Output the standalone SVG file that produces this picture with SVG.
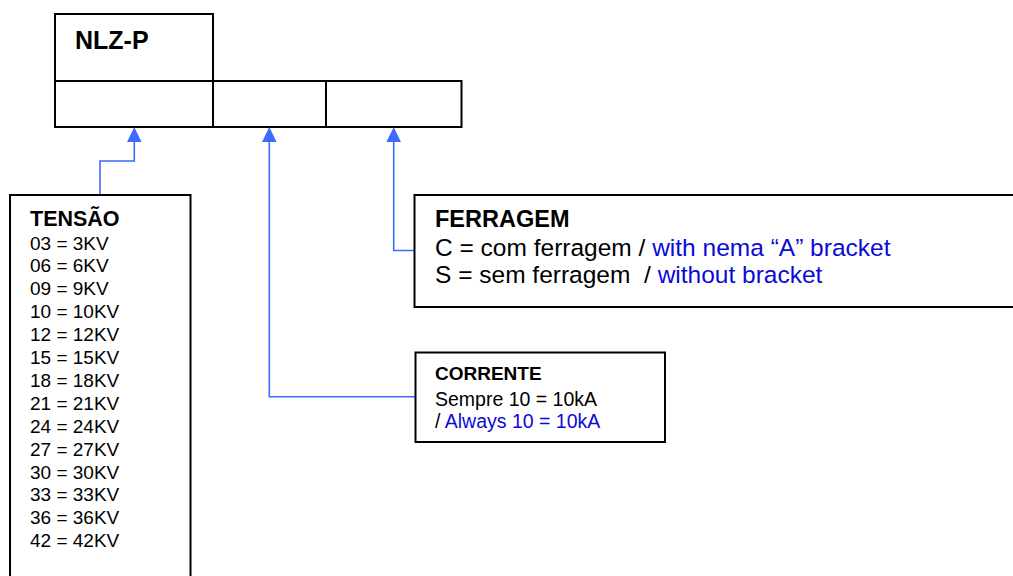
<svg xmlns="http://www.w3.org/2000/svg" width="1013" height="576" viewBox="0 0 1013 576">
<style>
.box{fill:#fff;stroke:#000;stroke-width:2}
.t{font-family:"Liberation Sans",Arial,sans-serif;fill:#000}
.b{font-weight:bold}
.blue{fill:#0a0ad6}
.conn{fill:none;stroke:#3d6bff;stroke-width:1.6}
.head{fill:#3d6bff}
</style>
<rect width="1013" height="576" fill="#fff"/>
<g id="code">
<rect class="box" x="55" y="14" width="158" height="67"/>
<rect class="box" x="55" y="81" width="158" height="46"/>
<rect class="box" x="213" y="81" width="113" height="46"/>
<rect class="box" x="326" y="81" width="135.5" height="46"/>
<text class="t b" x="75" y="49" font-size="25">NLZ-P</text>
</g>
<g id="connectors">
<path class="conn" d="M100,195 V161 H134.3 V141"/>
<path class="head" d="M134.3,127 L127,142 L141.6,142 Z"/>
<path class="conn" d="M415,396.7 H269.3 V141"/>
<path class="head" d="M269.3,127 L262,142 L276.6,142 Z"/>
<path class="conn" d="M415,250.5 H393.7 V141"/>
<path class="head" d="M393.7,127 L386.4,142 L401,142 Z"/>
</g>
<g id="tensao">
<rect class="box" x="10" y="195" width="180.5" height="400"/>
<text class="t" font-size="19">
<tspan class="b" x="30" y="226" font-size="21.5">TENSÃO</tspan>
<tspan x="30" y="249.5">03 = 3KV</tspan>
<tspan x="30" y="272.4">06 = 6KV</tspan>
<tspan x="30" y="295.3">09 = 9KV</tspan>
<tspan x="30" y="318.2">10 = 10KV</tspan>
<tspan x="30" y="341.1">12 = 12KV</tspan>
<tspan x="30" y="364">15 = 15KV</tspan>
<tspan x="30" y="386.9">18 = 18KV</tspan>
<tspan x="30" y="409.8">21 = 21KV</tspan>
<tspan x="30" y="432.7">24 = 24KV</tspan>
<tspan x="30" y="455.6">27 = 27KV</tspan>
<tspan x="30" y="478.5">30 = 30KV</tspan>
<tspan x="30" y="501.4">33 = 33KV</tspan>
<tspan x="30" y="524.3">36 = 36KV</tspan>
<tspan x="30" y="547.2">42 = 42KV</tspan>
</text>
</g>
<g id="ferragem">
<rect class="box" x="414.5" y="195" width="620" height="112"/>
<text class="t b" x="435" y="227" font-size="23.5">FERRAGEM</text>
<text class="t" x="435" y="256" font-size="24.5" xml:space="preserve">C = com ferragem / <tspan class="blue">with nema “A” bracket</tspan></text>
<text class="t" x="435" y="283" font-size="24.5" xml:space="preserve">S = sem ferragem  / <tspan class="blue">without bracket</tspan></text>
</g>
<g id="corrente">
<rect class="box" x="415.5" y="352.5" width="249.5" height="89.5"/>
<text class="t b" x="435" y="379.5" font-size="19">CORRENTE</text>
<text class="t" x="435" y="405.5" font-size="19.5">Sempre 10 = 10kA</text>
<text class="t" x="435" y="427.5" font-size="19.5">/ <tspan class="blue">Always 10 = 10kA</tspan></text>
</g>
</svg>
